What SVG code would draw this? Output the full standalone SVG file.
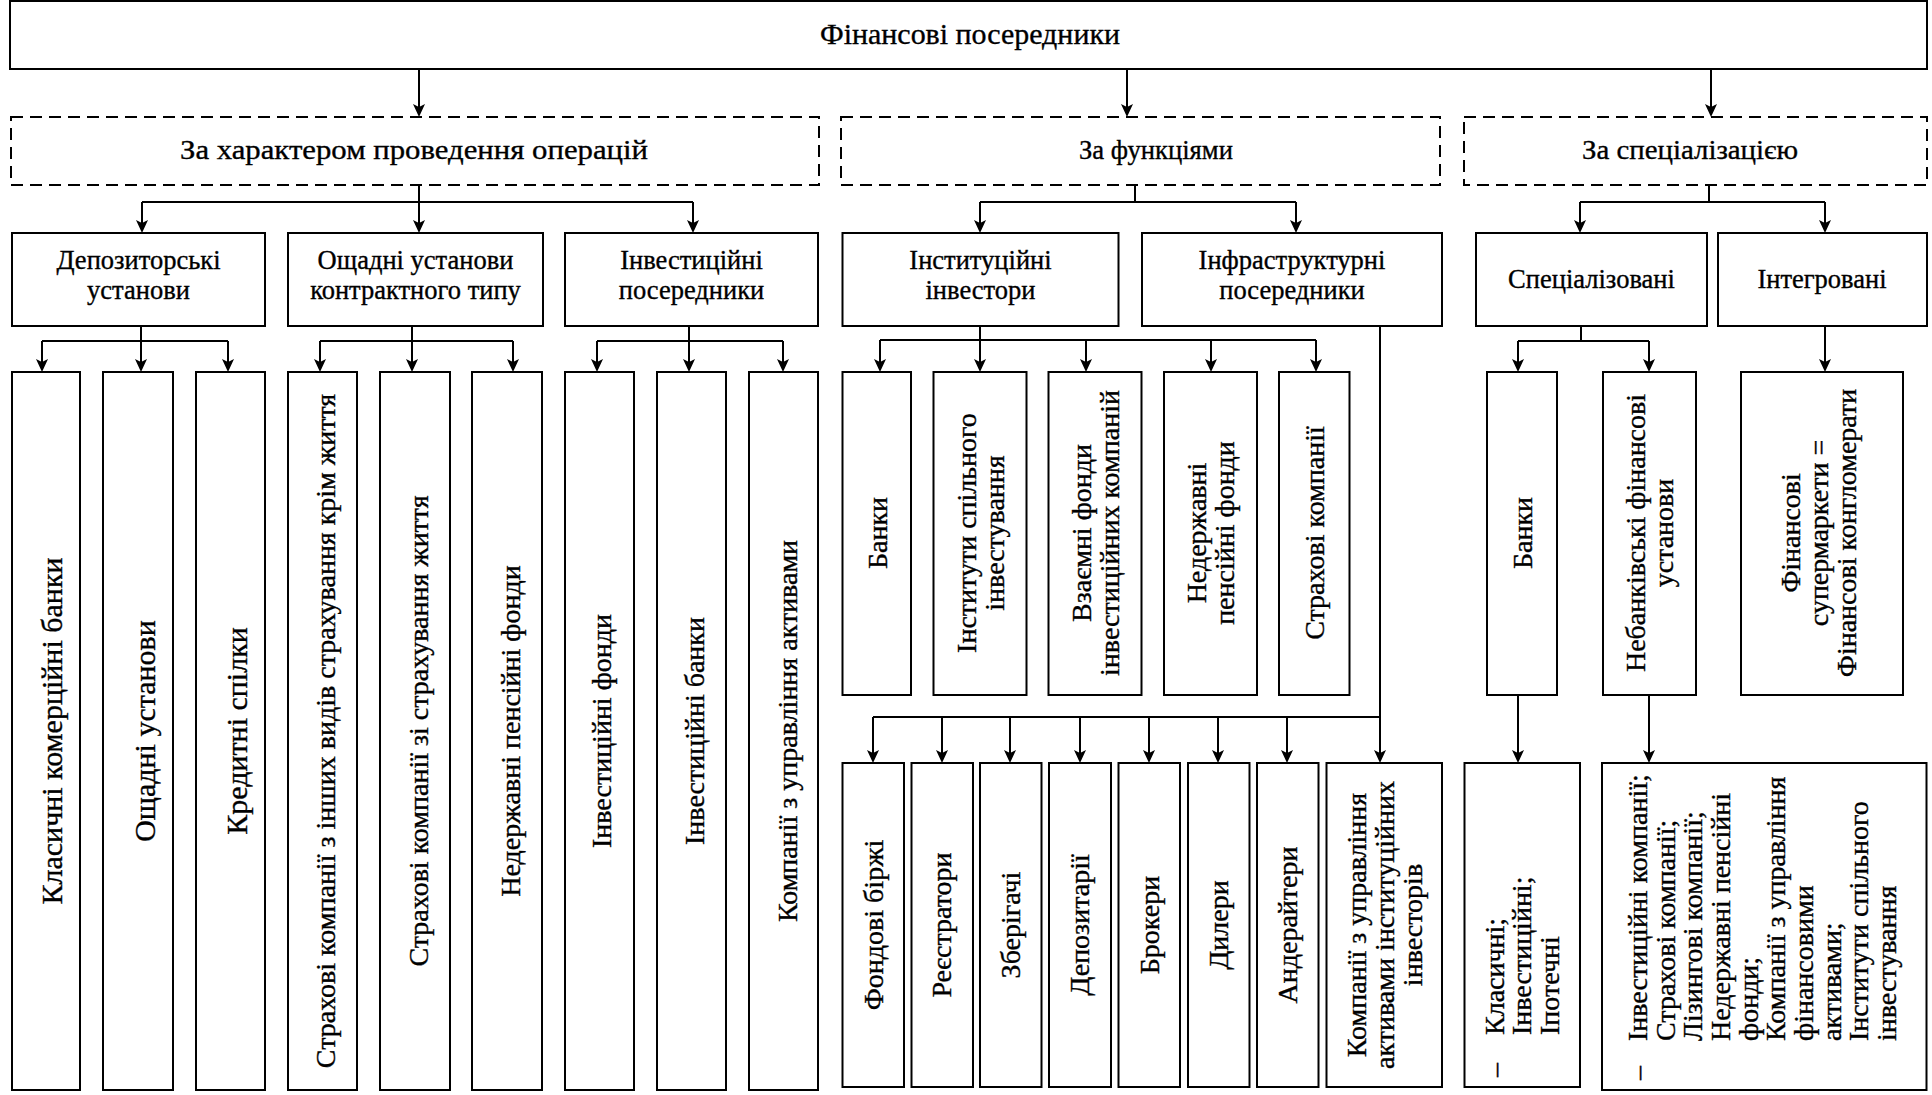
<svg xmlns="http://www.w3.org/2000/svg" width="1932" height="1095" viewBox="0 0 1932 1095" font-family="'Liberation Serif', serif">
<defs>
<marker id="arrow" markerUnits="userSpaceOnUse" markerWidth="14" markerHeight="12" refX="10" refY="6" orient="auto">
<path d="M0,0 L13,6 L0,12 L3,6 Z" fill="#000"/>
</marker>
<style>
.box{fill:#fff;stroke:#000;stroke-width:2}
.dbox{fill:#fff;stroke:#000;stroke-width:2;stroke-dasharray:12 7}
.c{fill:none;stroke:#000;stroke-width:2}
.a{fill:none;stroke:#000;stroke-width:2;marker-end:url(#arrow)}
text{font-family:'Liberation Serif','Times New Roman',serif;fill:#000;stroke:#000;stroke-width:0.35}
.h30{font-size:30px}
.h28{font-size:28px}
.h26{font-size:26.5px}
.v28{font-size:28px}
.v30{font-size:30px}
.m{text-anchor:middle}
</style>
</defs>
<rect width="1932" height="1095" fill="#fff"/>

<g id="connectors">
<path class="a" d="M419,69 V114"/>
<path class="a" d="M1127,69 V114"/>
<path class="a" d="M1711,69 V114"/>

<path class="c" d="M419,185 V202 M142,202 H693"/>
<path class="a" d="M142,202 V230"/>
<path class="a" d="M419,202 V230"/>
<path class="a" d="M693,202 V230"/>

<path class="c" d="M1135,185 V202 M980,202 H1296"/>
<path class="a" d="M980,202 V230"/>
<path class="a" d="M1296,202 V230"/>

<path class="c" d="M1709,185 V202 M1580,202 H1825"/>
<path class="a" d="M1580,202 V230"/>
<path class="a" d="M1825,202 V230"/>

<path class="c" d="M141,326 V341 M42,341 H228"/>
<path class="a" d="M42,341 V369"/>
<path class="a" d="M141,341 V369"/>
<path class="a" d="M228,341 V369"/>

<path class="c" d="M412,326 V341 M320,341 H513"/>
<path class="a" d="M320,341 V369"/>
<path class="a" d="M412,341 V369"/>
<path class="a" d="M513,341 V369"/>

<path class="c" d="M689,326 V341 M597,341 H783"/>
<path class="a" d="M597,341 V369"/>
<path class="a" d="M689,341 V369"/>
<path class="a" d="M783,341 V369"/>

<path class="c" d="M980,326 V340 M880,340 H1316"/>
<path class="a" d="M880,340 V369"/>
<path class="a" d="M980,340 V369"/>
<path class="a" d="M1086,340 V369"/>
<path class="a" d="M1211,340 V369"/>
<path class="a" d="M1316,340 V369"/>

<path class="a" d="M1380,326 V760"/>
<path class="c" d="M873,717 H1380"/>
<path class="a" d="M873,717 V760"/>
<path class="a" d="M942,717 V760"/>
<path class="a" d="M1010,717 V760"/>
<path class="a" d="M1080,717 V760"/>
<path class="a" d="M1149,717 V760"/>
<path class="a" d="M1218,717 V760"/>
<path class="a" d="M1287,717 V760"/>

<path class="c" d="M1581,326 V341 M1518,341 H1649"/>
<path class="a" d="M1518,341 V369"/>
<path class="a" d="M1649,341 V369"/>
<path class="a" d="M1825,326 V369"/>

<path class="a" d="M1518,695 V760"/>
<path class="a" d="M1649,695 V760"/>
</g>

<g id="root"><rect class="box" x="10" y="1" width="1917" height="68"/><text class="h30 m" x="970" y="44" textLength="300" lengthAdjust="spacingAndGlyphs">Фінансові посередники</text></g>

<g id="by-operations"><rect class="dbox" x="11" y="117" width="808" height="68"/><text class="h28 m" x="414" y="159" textLength="468" lengthAdjust="spacingAndGlyphs">За характером проведення операцій</text></g>
<g id="by-functions"><rect class="dbox" x="841" y="117" width="599" height="68"/><text class="h28 m" x="1156" y="159" textLength="154" lengthAdjust="spacingAndGlyphs">За функціями</text></g>
<g id="by-specialization"><rect class="dbox" x="1464" y="117" width="463" height="68"/><text class="h28 m" x="1690" y="159" textLength="216" lengthAdjust="spacingAndGlyphs">За спеціалізацією</text></g>

<g id="depository"><rect class="box" x="12" y="233" width="253" height="93"/><text class="h26 m" x="138.5" y="269">Депозиторські</text><text class="h26 m" x="138.5" y="299">установи</text></g>
<g id="contractual"><rect class="box" x="288" y="233" width="255" height="93"/><text class="h26 m" x="415.5" y="269">Ощадні установи</text><text class="h26 m" x="415.5" y="299">контрактного типу</text></g>
<g id="investment-intermediaries"><rect class="box" x="565" y="233" width="253" height="93"/><text class="h26 m" x="691.5" y="269">Інвестиційні</text><text class="h26 m" x="691.5" y="299">посередники</text></g>
<g id="institutional"><rect class="box" x="842.5" y="233" width="276" height="93"/><text class="h26 m" x="980.5" y="269">Інституційні</text><text class="h26 m" x="980.5" y="299">інвестори</text></g>
<g id="infrastructure"><rect class="box" x="1142" y="233" width="300" height="93"/><text class="h26 m" x="1292" y="269">Інфраструктурні</text><text class="h26 m" x="1292" y="299">посередники</text></g>
<g id="specialized"><rect class="box" x="1476" y="233" width="231" height="93"/><text class="h26 m" x="1591.5" y="288">Спеціалізовані</text></g>
<g id="integrated"><rect class="box" x="1718" y="233" width="209" height="93"/><text class="h26 m" x="1822" y="288">Інтегровані</text></g>

<g id="classic-banks"><rect class="box" x="12" y="372" width="68" height="718"/><text class="v30 m" transform="translate(62,731) rotate(-90)">Класичні комерційні банки</text></g>
<g id="savings"><rect class="box" x="103" y="372" width="70" height="718"/><text class="v30 m" transform="translate(155,731) rotate(-90)">Ощадні установи</text></g>
<g id="credit-unions"><rect class="box" x="196" y="372" width="69" height="718"/><text class="v30 m" transform="translate(247,731) rotate(-90)">Кредитні спілки</text></g>
<g id="non-life"><rect class="box" x="288" y="372" width="69" height="718"/><text class="v28 m" transform="translate(335,731) rotate(-90)">Страхові компанії з інших видів страхування крім життя</text></g>
<g id="life"><rect class="box" x="380" y="372" width="70" height="718"/><text class="v28 m" transform="translate(428,731) rotate(-90)">Страхові компанії зі страхування життя</text></g>
<g id="pension-1"><rect class="box" x="472" y="372" width="70" height="718"/><text class="v28 m" transform="translate(520,731) rotate(-90)">Недержавні пенсійні фонди</text></g>
<g id="inv-funds"><rect class="box" x="565" y="372" width="69" height="718"/><text class="v28 m" transform="translate(611,731) rotate(-90)">Інвестиційні фонди</text></g>
<g id="inv-banks"><rect class="box" x="657" y="372" width="69" height="718"/><text class="v28 m" transform="translate(704,731) rotate(-90)">Інвестиційні банки</text></g>
<g id="asset-mgmt-1"><rect class="box" x="749" y="372" width="69" height="718"/><text class="v28 m" transform="translate(797,731) rotate(-90)">Компанії з управління активами</text></g>

<g id="inst-banks"><rect class="box" x="842.5" y="372" width="68.5" height="323"/><text class="v28 m" transform="translate(886.5,533) rotate(-90)">Банки</text></g>
<g id="inst-cii"><rect class="box" x="933.5" y="372" width="93" height="323"/><text class="v28 m" transform="translate(975.5,533) rotate(-90)">Інститути спільного</text><text class="v28 m" transform="translate(1003.5,533) rotate(-90)">інвестування</text></g>
<g id="inst-mutual"><rect class="box" x="1048.5" y="372" width="93" height="323"/><text class="v28 m" transform="translate(1090.5,533) rotate(-90)">Взаємні фонди</text><text class="v28 m" transform="translate(1118.5,533) rotate(-90)">інвестиційних компаній</text></g>
<g id="inst-pension"><rect class="box" x="1164" y="372" width="93" height="323"/><text class="v28 m" transform="translate(1206,533) rotate(-90)">Недержавні</text><text class="v28 m" transform="translate(1234,533) rotate(-90)">пенсійні фонди</text></g>
<g id="inst-insurance"><rect class="box" x="1279" y="372" width="70.5" height="323"/><text class="v28 m" transform="translate(1323.5,533) rotate(-90)">Страхові компанії</text></g>

<g id="stock-exchanges"><rect class="box" x="842.5" y="763" width="61.5" height="324"/><text class="v28 m" transform="translate(882.5,925) rotate(-90)">Фондові біржі</text></g>
<g id="registrars"><rect class="box" x="911.5" y="763" width="61.5" height="324"/><text class="v28 m" transform="translate(951,925) rotate(-90)">Реєстратори</text></g>
<g id="custodians"><rect class="box" x="980" y="763" width="61.5" height="324"/><text class="v28 m" transform="translate(1020,925) rotate(-90)">Зберігачі</text></g>
<g id="depositories"><rect class="box" x="1049" y="763" width="62" height="324"/><text class="v28 m" transform="translate(1089,925) rotate(-90)">Депозитарії</text></g>
<g id="brokers"><rect class="box" x="1118.5" y="763" width="61.5" height="324"/><text class="v28 m" transform="translate(1158.5,925) rotate(-90)">Брокери</text></g>
<g id="dealers"><rect class="box" x="1188" y="763" width="61.5" height="324"/><text class="v28 m" transform="translate(1228,925) rotate(-90)">Дилери</text></g>
<g id="underwriters"><rect class="box" x="1257" y="763" width="61.5" height="324"/><text class="v28 m" transform="translate(1297,925) rotate(-90)">Андерайтери</text></g>
<g id="asset-mgmt-2"><rect class="box" x="1326.5" y="763" width="115.5" height="324"/><text class="v28 m" transform="translate(1365.5,925) rotate(-90)">Компанії з управління</text><text class="v28 m" transform="translate(1393.5,925) rotate(-90)">активами інституційних</text><text class="v28 m" transform="translate(1421.5,925) rotate(-90)">інвесторів</text></g>

<g id="spec-banks"><rect class="box" x="1487" y="372" width="70" height="323"/><text class="v28 m" transform="translate(1531.5,533) rotate(-90)">Банки</text></g>
<g id="spec-nonbank"><rect class="box" x="1603" y="372" width="93" height="323"/><text class="v28 m" transform="translate(1645,533) rotate(-90)">Небанківські фінансові</text><text class="v28 m" transform="translate(1673,533) rotate(-90)">установи</text></g>
<g id="supermarkets"><rect class="box" x="1741" y="372" width="162" height="323"/><text class="v28 m" transform="translate(1799.5,533) rotate(-90)">Фінансові</text><text class="v28 m" transform="translate(1827.5,533) rotate(-90)">супермаркети =</text><text class="v28 m" transform="translate(1855.5,533) rotate(-90)">Фінансові конгломерати</text></g>

<g id="bank-types"><rect class="box" x="1464.5" y="763" width="115.5" height="324"/>
<text class="v28" transform="translate(1503.5,1077) rotate(-90)">–</text>
<text class="v28" transform="translate(1503.5,1035) rotate(-90)">Класичні;</text>
<text class="v28" transform="translate(1531,1035) rotate(-90)">Інвестиційні;</text>
<text class="v28" transform="translate(1558.5,1035) rotate(-90)">Іпотечні</text>
</g>

<g id="nonbank-types"><rect class="box" x="1602" y="763" width="324.5" height="327"/>
<text class="v28" transform="translate(1647,1080) rotate(-90)">–</text>
<text class="v28" transform="translate(1647,1041) rotate(-90)">Інвестиційні компанії;</text>
<text class="v28" transform="translate(1674.7,1041) rotate(-90)">Страхові компанії;</text>
<text class="v28" transform="translate(1702.3,1041) rotate(-90)">Лізингові компанії;</text>
<text class="v28" transform="translate(1730,1041) rotate(-90)">Недержавні пенсійні</text>
<text class="v28" transform="translate(1757.6,1041) rotate(-90)">фонди;</text>
<text class="v28" transform="translate(1785.3,1041) rotate(-90)">Компанії з управління</text>
<text class="v28" transform="translate(1812.9,1041) rotate(-90)">фінансовими</text>
<text class="v28" transform="translate(1840.6,1041) rotate(-90)">активами;</text>
<text class="v28" transform="translate(1868.2,1041) rotate(-90)">Інститути спільного</text>
<text class="v28" transform="translate(1895.9,1041) rotate(-90)">інвестування</text>
</g>
</svg>
